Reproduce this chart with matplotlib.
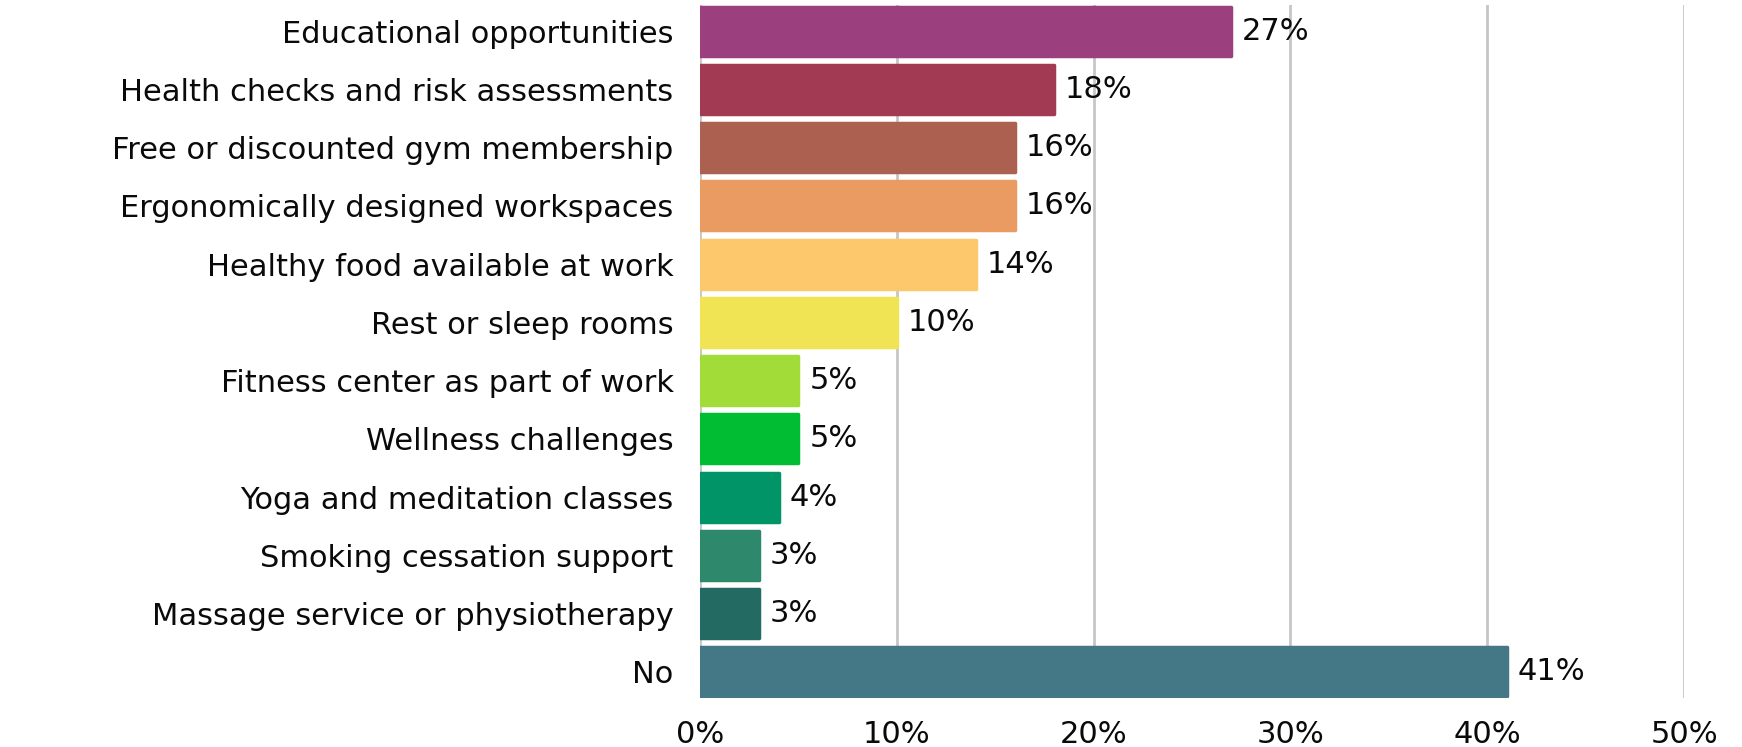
import matplotlib.pyplot as plt

# Workplace wellness offerings, share of respondents
categories = [
    'Educational opportunities',
    'Health checks and risk assessments',
    'Free or discounted gym membership',
    'Ergonomically designed workspaces',
    'Healthy food available at work',
    'Rest or sleep rooms',
    'Fitness center as part of work',
    'Wellness challenges',
    'Yoga and meditation classes',
    'Smoking cessation support',
    'Massage service or physiotherapy',
    'No',
]
values = [27, 18, 16, 16, 14, 10, 5, 5, 4, 3, 3, 41]
colors = ['#9B3F7E', '#A33A53', '#AC6150', '#EA9B62', '#FDC76B', '#F0E354',
          '#A2DC38', '#00BD33', '#009466', '#2E886C', '#236A63', '#447886']
xticks = [0, 10, 20, 30, 40, 50]

plt.rcParams['font.family'] = ['DejaVu Sans']
fs = 22

fig = plt.figure(figsize=(17.42, 7.47), dpi=100)
ax = fig.add_axes([700 / 1742, 49 / 747, 984 / 1742, 693 / 747])

y = list(range(len(categories)))
bars = ax.barh(y, values, height=0.84, color=colors, edgecolor=colors,
               linewidth=2.5, zorder=3)
for b in bars:
    b.set_joinstyle('round')

for yi, v in zip(y, values):
    ax.text(v + 0.55, yi, f'{v}%', va='center', ha='left', fontsize=fs,
            color='#0A0A0A', zorder=4)

ax.set_yticks(y)
ax.set_yticklabels(categories, fontsize=fs, color='#0A0A0A')
ax.set_xticks(xticks)
ax.set_xticklabels([f'{t}%' for t in xticks], fontsize=fs, color='#0A0A0A')
ax.set_xlim(0, 50)
ax.set_ylim(len(categories) - 0.55, -0.45)

ax.tick_params(axis='y', length=0, pad=19)
ax.tick_params(axis='x', length=0, pad=16)
ax.grid(axis='x', color='#C6C6C6', linewidth=2, zorder=0)
for s in ax.spines.values():
    s.set_visible(False)

fig.savefig('out.png', dpi=100, facecolor='white')
